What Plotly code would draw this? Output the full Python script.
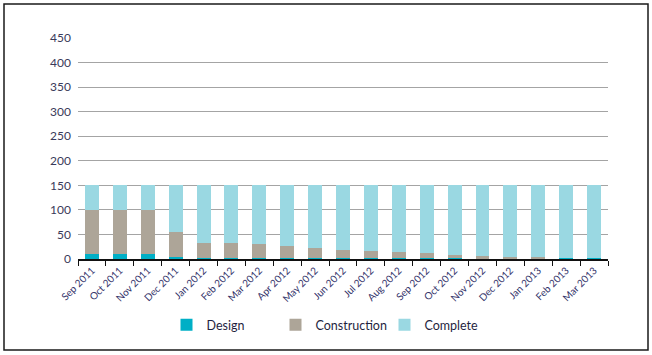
import plotly.graph_objects as go

months = ["Sep 2011", "Oct 2011", "Nov 2011", "Dec 2011", "Jan 2012", "Feb 2012",
          "Mar 2012", "Apr 2012", "May 2012", "Jun 2012", "Jul 2012", "Aug 2012",
          "Sep 2012", "Oct 2012", "Nov 2012", "Dec 2012", "Jan 2013", "Feb 2013",
          "Mar 2013"]
design = [10, 10, 10, 4, 2, 2, 2, 2, 2, 2, 2, 2, 2, 2, 2, 2, 2, 2, 2]
construction = [90, 90, 90, 51, 31, 31, 29, 25, 21, 17, 14, 12, 10, 6, 4, 2, 2, 0, 0]
complete = [50, 50, 50, 95, 117, 117, 119, 123, 127, 131, 134, 136, 138, 142, 144, 146, 146, 148, 148]
y_ticks = [0, 50, 100, 150, 200, 250, 300, 350, 400, 450]

W, H = 652, 355
L, R, T, B = 78, 44, 38, 96
pw, ph = W - L - R, H - T - B

fig = go.Figure()
fig.add_bar(x=months, y=design, name="Design", marker_color="#00AFC6", marker_line_width=0)
fig.add_bar(x=months, y=construction, name="Construction", marker_color="#ADA598", marker_line_width=0)
fig.add_bar(x=months, y=complete, name="Complete", marker_color="#9AD8E2", marker_line_width=0)

def px_x(p):
    return (p - L) / pw

def px_y(p):
    return 1 - (p - T) / ph

fig.update_layout(
    width=W, height=H,
    margin=dict(l=L, r=R, t=T, b=B),
    barmode="stack", bargap=0.5,
    plot_bgcolor="white", paper_bgcolor="white",
    font=dict(family="Lato, Noto Sans, sans-serif", color="#3a3a5a"),
    hovermode=False,
    legend=dict(orientation="h", x=px_x(330), xanchor="center", y=px_y(325), yanchor="middle",
                traceorder="normal", entrywidth=64, font=dict(size=12.5, color="#1f1f3f")),
    xaxis=dict(showline=True, linecolor="#111111", linewidth=1.5, ticks="outside",
               tickson="boundaries", ticklen=5, tickcolor="#111111", tickangle=-45,
               tickfont=dict(size=10, color="#33336a"), showgrid=False),
    yaxis=dict(range=[0, 450], tickvals=y_ticks, showgrid=True, gridcolor="#a4a4a4",
               gridwidth=1.3, zeroline=False, ticks="", ticklabelstandoff=6,
               tickfont=dict(size=12, color="#3a3a5a")),
    shapes=[dict(type="rect", xref="paper", yref="paper",
                 x0=px_x(4), x1=px_x(648), y0=px_y(350), y1=px_y(4),
                 line=dict(color="#1a1a1a", width=1.5), fillcolor="rgba(0,0,0,0)",
                 layer="above")],
)

fig.write_html("out.html", config={"displayModeBar": False},
               post_script="document.body.style.margin='0';")
